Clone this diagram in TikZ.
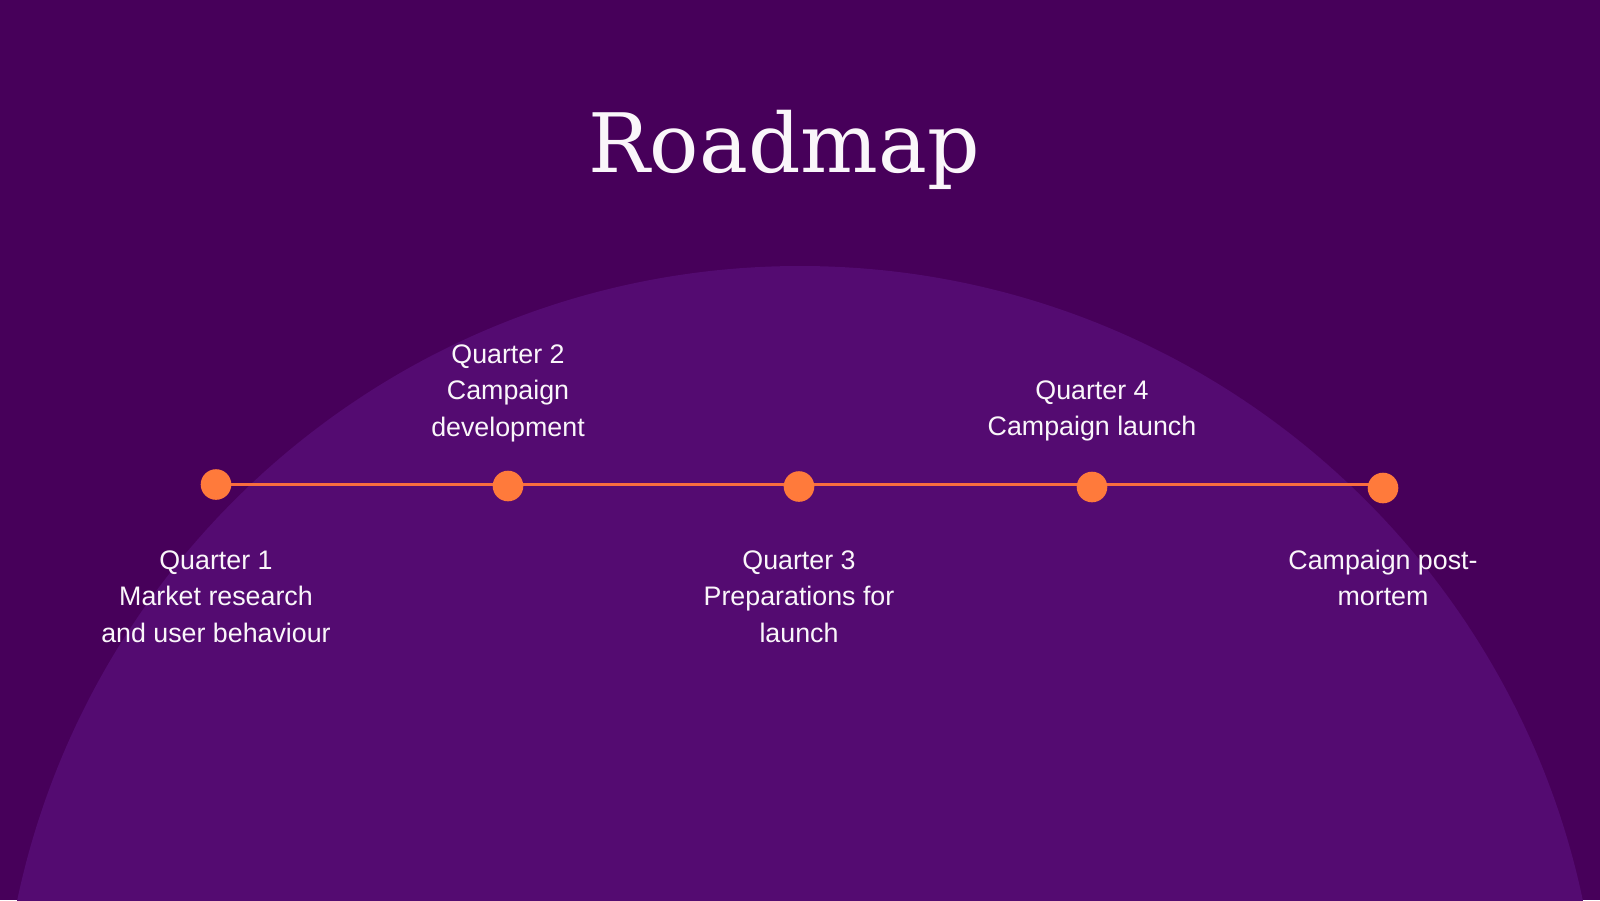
\documentclass[tikz,border=0pt]{standalone}
\usepackage{fontspec}
\setmainfont{Liberation Sans}
\newfontfamily\titlefont{DejaVu Serif}
\definecolor{bgdark}{HTML}{47005A}
\definecolor{bgarc}{HTML}{540B71}
\definecolor{dotorange}{HTML}{FF7A3B}
\definecolor{lineorange}{HTML}{F96D3F}
\definecolor{txt}{HTML}{FAF6FA}
\pgfdeclarelayer{back}
\pgfsetlayers{back,main}
\tikzset{
  dot/.style={circle, fill=dotorange, draw=none, minimum size=30.6pt, inner sep=0pt},
  link/.style={draw=lineorange, line width=3.4pt},
  lbl/.style={anchor=north, align=center, inner sep=0pt, text=txt,
    font=\fontsize{26.8}{36.5}\selectfont},
  ttl/.style={anchor=base, inner sep=0pt, text=txt, font=\titlefont\fontsize{82}{92}\selectfont}
}
\newcommand{\fl}{\rule{0pt}{20pt}}
\begin{document}
\begin{tikzpicture}[x=1pt,y=-1pt]
\useasboundingbox (0,0) rectangle (1600,900);
\node[ttl] (title) at (784,172) {Roadmap};
\node[dot] (d1) at (216,484.5) {};
\node[dot] (d2) at (508,486) {};
\node[dot] (d3) at (799,486.5) {};
\node[dot] (d4) at (1092,487) {};
\node[dot] (d5) at (1383,488) {};
\begin{pgfonlayer}{back}
\fill[bgdark] (0,0) rectangle (1600,900);
\begin{scope}
\clip (0,0) rectangle (1600,900);
\fill[bgarc] (800,1066) circle[radius=800];
\end{scope}
\draw[link] (d1.center) -- (d1.center -| d5.center);
\end{pgfonlayer}
\node[lbl] (l1) at (216,549) {\fl Quarter 1\\Market research\\and user behaviour};
\node[lbl] (l2) at (508,343) {\fl Quarter 2\\Campaign\\development};
\node[lbl] (l3) at (799,549) {\fl Quarter 3\\Preparations for\\launch};
\node[lbl] (l4) at (1092,379) {\fl Quarter 4\\Campaign launch};
\node[lbl] (l5) at (1383,549) {\fl Campaign post-\\mortem};
\end{tikzpicture}
\end{document}
